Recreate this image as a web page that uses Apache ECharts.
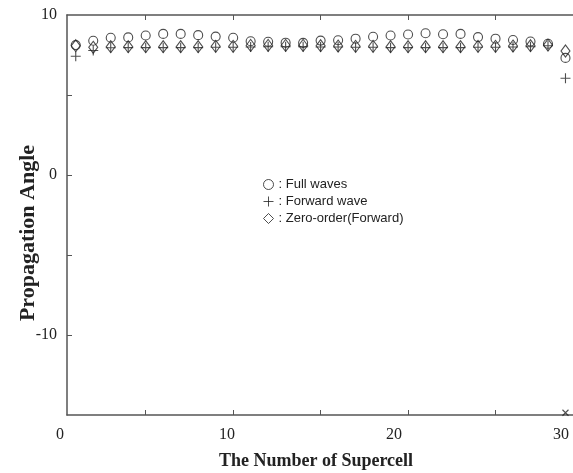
<!DOCTYPE html>
<html>
<head>
<meta charset="utf-8">
<script src="https://cdn.jsdelivr.net/npm/echarts@6/dist/echarts.min.js"></script>
<style>
  html, body { margin: 0; padding: 0; background: #fff; }
  #chart { width: 573px; height: 473px; }
</style>
</head>
<body>
<div id="chart"></div>
<script>
// Supercell indices
const cells = [1, 2, 3, 4, 5, 6, 7, 8, 9, 10, 11, 12, 13, 14, 15, 16, 17, 18, 19, 20,
               21, 22, 23, 24, 25, 26, 27, 28, 29];

// Propagation angle per supercell
const fullWaves = [8.12, 8.39, 8.58, 8.60, 8.72, 8.82, 8.82, 8.74, 8.65, 8.58,
                   8.36, 8.33, 8.27, 8.26, 8.40, 8.42, 8.52, 8.64, 8.72, 8.78,
                   8.86, 8.80, 8.82, 8.62, 8.52, 8.44, 8.34, 8.20, 7.32];
const forwardWave = [7.42, 7.78, 7.95, 7.96, 7.96, 7.96, 7.96, 7.96, 7.98, 7.98,
                     8.00, 8.02, 8.02, 8.02, 8.00, 8.00, 7.98, 7.98, 7.96, 7.96,
                     7.96, 7.96, 7.96, 7.98, 7.98, 8.00, 8.02, 8.08, 6.05];
const zeroOrder = [8.08, 7.98, 8.02, 8.02, 8.02, 8.02, 8.02, 8.02, 8.04, 8.04,
                   8.10, 8.10, 8.10, 8.10, 8.08, 8.06, 8.04, 8.04, 8.02, 8.02,
                   8.02, 8.02, 8.02, 8.04, 8.04, 8.06, 8.08, 8.12, 7.75];

// Single point sitting on the lower bound of the angle axis
const backwardCells = [29];
const backwardWave = [-14.86];

// Axis ticks and labels
const xTickValues = [5, 10, 15, 20, 25];
const xLabelValues = [0, 10, 20, 30];
const yTickValues = [-10, -5, 0, 5];
const yLabelValues = [-10, 0, 10];

const serif = '"Liberation Serif", "Times New Roman", serif';
const sans = '"Liberation Sans", Arial, sans-serif';
const ink = '#222';
const axisColor = '#555';

const pairs = (xs, ys) => xs.map((x, i) => [x, ys[i]]);

const frameAxis = (position) => ({
  gridIndex: 0,
  type: 'value',
  position: position,
  min: 0.5,
  max: 29.43,
  axisLine: { show: true, onZero: false, lineStyle: { color: axisColor, width: 1.5 } },
  axisTick: { show: true, inside: true, length: 5, customValues: xTickValues,
              lineStyle: { color: axisColor, width: 1 } },
  axisLabel: { show: false },
  splitLine: { show: false }
});

const markerStyle = { color: 'transparent', borderColor: ink, borderWidth: 1.1 };

const chart = echarts.init(document.getElementById('chart'), null, { renderer: 'canvas' });

chart.setOption({
  animation: false,
  backgroundColor: '#fff',
  grid: [
    { left: 67, right: 0, top: 15, bottom: 58 },
    { left: 60, width: 501, top: 15, bottom: 58 }
  ],
  xAxis: [
    frameAxis('bottom'),
    frameAxis('top'),
    {
      gridIndex: 1,
      type: 'value',
      min: 0,
      max: 30,
      interval: 10,
      axisLine: { show: false },
      axisTick: { show: false },
      splitLine: { show: false },
      axisLabel: { show: true, customValues: xLabelValues, margin: 12,
                   fontFamily: serif, fontSize: 16, color: ink }
    }
  ],
  yAxis: [
    {
      gridIndex: 0,
      type: 'value',
      min: -15,
      max: 10,
      axisLine: { show: true, onZero: false, lineStyle: { color: axisColor, width: 1.5 } },
      axisTick: { show: true, inside: true, length: 5, customValues: yTickValues,
                  lineStyle: { color: axisColor, width: 1 } },
      axisLabel: { show: true, customValues: yLabelValues, margin: 10,
                   fontFamily: serif, fontSize: 16, color: ink },
      splitLine: { show: false }
    },
    { gridIndex: 1, type: 'value', min: -15, max: 10, show: false }
  ],
  legend: {
    data: ['Full waves', 'Forward wave', 'Zero-order(Forward)'],
    orient: 'vertical',
    left: 258,
    top: 173,
    itemWidth: 10,
    itemHeight: 10,
    itemGap: 4,
    formatter: (name) => ': ' + name,
    itemStyle: { borderWidth: 1, borderColor: ink, color: 'transparent' },
    textStyle: { fontFamily: sans, fontSize: 13, color: ink }
  },
  graphic: [
    {
      type: 'text',
      x: 316,
      y: 461,
      style: {
        text: 'The Number of Supercell',
        fontFamily: serif,
        fontWeight: 'bold',
        fontSize: 18,
        fill: ink,
        textAlign: 'center',
        textVerticalAlign: 'middle'
      }
    },
    {
      type: 'text',
      x: 28,
      y: 233,
      rotation: Math.PI / 2,
      style: {
        text: 'Propagation Angle',
        fontFamily: serif,
        fontWeight: 'bold',
        fontSize: 22,
        fill: ink,
        textAlign: 'center',
        textVerticalAlign: 'middle'
      }
    }
  ],
  series: [
    {
      name: 'Full waves',
      type: 'scatter',
      xAxisIndex: 0,
      yAxisIndex: 0,
      symbol: 'circle',
      symbolSize: 9,
      itemStyle: markerStyle,
      data: pairs(cells, fullWaves)
    },
    {
      name: 'Forward wave',
      type: 'scatter',
      xAxisIndex: 0,
      yAxisIndex: 0,
      symbol: 'path://M5 0V10M0 5H10',
      symbolSize: 10,
      itemStyle: markerStyle,
      data: pairs(cells, forwardWave)
    },
    {
      name: 'Zero-order(Forward)',
      type: 'scatter',
      xAxisIndex: 0,
      yAxisIndex: 0,
      symbol: 'diamond',
      symbolSize: [9, 12],
      itemStyle: markerStyle,
      data: pairs(cells, zeroOrder)
    },
    {
      name: 'Backward wave',
      type: 'scatter',
      xAxisIndex: 0,
      yAxisIndex: 0,
      symbol: 'path://M0 0L10 10M10 0L0 10',
      symbolSize: 6,
      itemStyle: markerStyle,
      data: pairs(backwardCells, backwardWave)
    }
  ]
});
</script>
</body>
</html>
